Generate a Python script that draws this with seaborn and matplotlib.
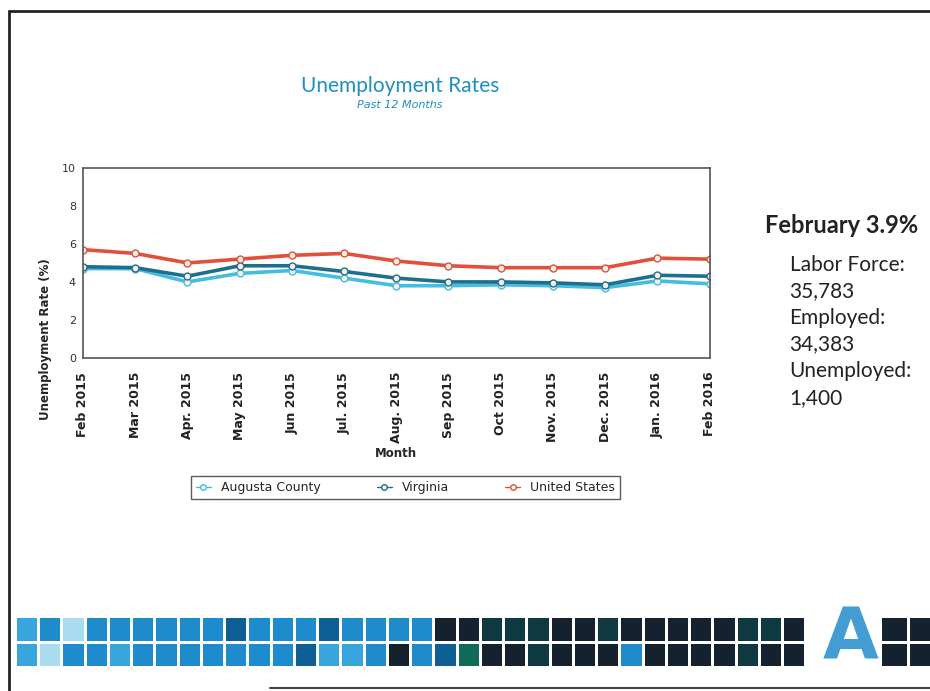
import numpy as np
import pandas as pd
import matplotlib
matplotlib.use("Agg")
import matplotlib.pyplot as plt
import seaborn as sns
from matplotlib.colors import ListedColormap
from matplotlib.lines import Line2D

months = ["Feb 2015", "Mar 2015", "Apr. 2015", "May 2015", "Jun 2015", "Jul. 2015",
          "Aug. 2015", "Sep 2015", "Oct 2015", "Nov. 2015", "Dec. 2015", "Jan. 2016", "Feb 2016"]
augusta = [4.7, 4.7, 4.0, 4.45, 4.6, 4.2, 3.8, 3.8, 3.85, 3.8, 3.7, 4.05, 3.9]
virginia = [4.8, 4.75, 4.3, 4.85, 4.85, 4.55, 4.2, 4.0, 4.0, 3.95, 3.85, 4.35, 4.3]
united_states = [5.7, 5.5, 5.0, 5.2, 5.4, 5.5, 5.1, 4.85, 4.75, 4.75, 4.75, 5.25, 5.2]
series_names = ["Augusta County", "Virginia", "United States"]
series_colors = ["#45bde0", "#1f6e8e", "#e0503a"]

side_title = "February 3.9%"
side_lines = ["Labor Force:", "35,783", "Employed:", "34,383", "Unemployed:", "1,400"]

# tile banner colour codes (0 light .. 6 green)
tile_codes = [
    [1, 2, 0, 2, 2, 2, 2, 2, 2, 3, 2, 2, 2, 3, 2, 2, 2, 2, 4, 4, 5, 5, 5, 4, 4, 5, 4, 4, 4, 4, 4, 5, 5, 4],
    [1, 0, 2, 2, 1, 2, 2, 2, 2, 2, 2, 2, 3, 1, 1, 2, 4, 2, 3, 6, 4, 4, 5, 4, 4, 4, 2, 4, 4, 4, 4, 5, 4, 4],
]
tile_palette = ["#a9dcef", "#38a6dc", "#1e8bcd", "#0d5f95", "#13222e", "#0f3940", "#0f6a5a"]

sns.set_theme(style="white")
plt.rcParams["font.family"] = ["DejaVu Sans"]

df = pd.DataFrame({
    "Month": months * 3,
    "Rate": augusta + virginia + united_states,
    "Series": [s for s in series_names for _ in months],
})
df["pos"] = list(range(len(months))) * 3

fig = plt.figure(figsize=(9.3, 6.91), dpi=100)
fig.patch.set_facecolor("white")

ax = fig.add_axes([0.0892, 0.482, 0.6738, 0.275])
sns.lineplot(data=df, x="pos", y="Rate", hue="Series", palette=series_colors,
             hue_order=series_names, marker="o", markersize=5, linewidth=2.6,
             legend=False, ax=ax)
for line in ax.lines:
    line.set_markeredgecolor(line.get_color())
    line.set_markerfacecolor("#f4f0e8")
    line.set_markeredgewidth(1.0)

ax.set_xlim(0, len(months) - 1)
ax.set_ylim(0, 10)
ax.set_yticks([0, 2, 4, 6, 8, 10])
ax.set_yticklabels(["0", "2", "4", "6", "8", "10"], fontsize=8, color="#333333")
ax.set_xticks(range(len(months)))
ax.set_xticklabels(months, rotation=90, fontsize=9, fontweight="bold", color="#222222")
ax.tick_params(axis="x", length=0, pad=10)
ax.tick_params(axis="y", length=0, pad=5)
for sp in ax.spines.values():
    sp.set_color("#555555")
    sp.set_linewidth(1.2)
ax.set_xlabel("Month", fontsize=8.5, fontweight="bold", labelpad=3)
ax.set_ylabel("Unemployment Rate (%)", fontsize=8.5, fontweight="bold")
ax.yaxis.set_label_coords(-0.05, 0.1)

handles = [Line2D([0], [0], color=c, lw=1, marker="o", ms=4, mfc="white", mec=c)
           for c in series_colors]
leg = fig.legend(handles, series_names, loc="upper center", bbox_to_anchor=(0.436, 0.32),
                 ncol=3, fontsize=9, frameon=True, fancybox=False, edgecolor="#333333",
                 handlelength=1.2, columnspacing=4.5, borderpad=0.4)
leg.get_frame().set_linewidth(1.0)

fig.text(0.43, 0.875, "Unemployment Rates", ha="center", va="center", fontsize=15,
         color="#1f8fc2", family="Lato")
fig.text(0.43, 0.848, "Past 12 Months", ha="center", va="center", fontsize=8,
         color="#1f8fc2", style="italic")

fig.text(0.823, 0.673, side_title, ha="left", va="center", fontsize=17,
         fontweight="bold", color="#222222", family="Lato")
for i, txt in enumerate(side_lines):
    fig.text(0.849, 0.617 - i * 0.0385, txt, ha="left", va="center", fontsize=15,
             color="#222222", family="Lato")

# tile banner
tax = fig.add_axes([0.016, 0.035, 0.850, 0.073])
sns.heatmap(np.array(tile_codes), cmap=ListedColormap(tile_palette), vmin=-0.5, vmax=6.5,
            cbar=False, linewidths=2, linecolor="white", ax=tax,
            xticklabels=False, yticklabels=False)
tax.set_axis_off()
rax = fig.add_axes([0.946, 0.035, 0.06, 0.073])
sns.heatmap(np.array([[4, 4], [4, 4]]), cmap=ListedColormap(tile_palette), vmin=-0.5,
            vmax=6.5, cbar=False, linewidths=2, linecolor="white", ax=rax,
            xticklabels=False, yticklabels=False)
rax.set_axis_off()
fig.text(0.915, 0.075, "A", ha="center", va="center", fontsize=52, fontweight="bold",
         color="#2e93cf", alpha=0.9)

# slide frame
fig.add_artist(Line2D([0.0097, 0.0097], [0.0, 0.984], color="#222222", lw=2))
fig.add_artist(Line2D([0.0097, 1.0], [0.984, 0.984], color="#222222", lw=2))
fig.add_artist(Line2D([0.29, 1.0], [0.004, 0.004], color="#444444", lw=1.5))

fig.savefig("out.png", dpi=100)
